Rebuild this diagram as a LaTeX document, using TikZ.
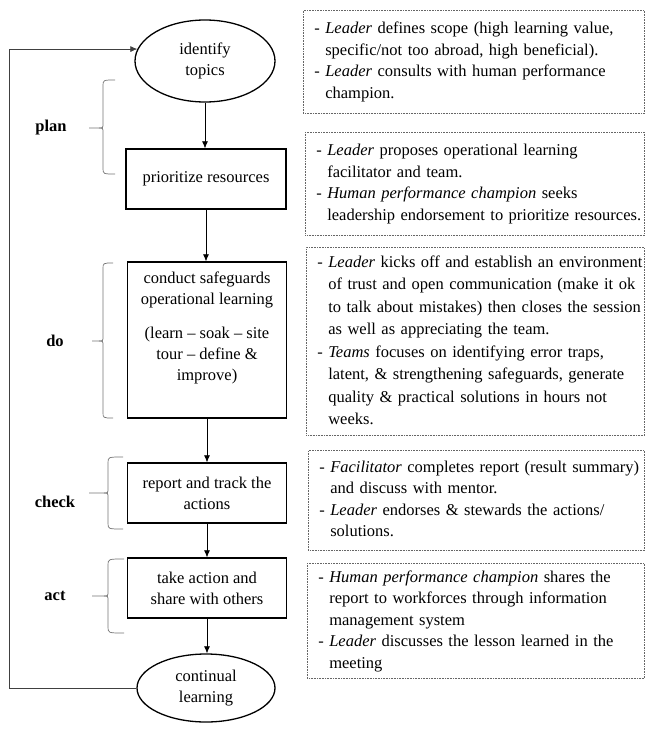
\documentclass[tikz,border=0pt]{standalone}
\usepackage{fontspec}
\setmainfont{Liberation Serif}
\usetikzlibrary{arrows.meta,shapes.geometric}
% lines of a note, kept exactly as broken
\newcommand\notelines[1]{\begin{tabular}{@{}l@{}}#1\end{tabular}}
\newcommand\hang{\phantom{- }}
% left curly bracket: end x, spine x, top y, middle y, bottom y, tip x
\newcommand\phasebrace[6]{%
  \draw[bracket] (#1,#3) .. controls (#2,#3) .. (#2,#3+6) -- (#2,#4-5)
    .. controls (#2,#4) .. (#2-4,#4) -- (#6,#4);
  \draw[bracket] (#2-4,#4) .. controls (#2,#4) .. (#2,#4+5) -- (#2,#5-6)
    .. controls (#2,#5) .. (#1,#5);}
\begin{document}
\begin{tikzpicture}[x=1pt,y=-1pt,
  flow/.style={draw,line width=1.3pt,align=center,inner sep=0pt,
    font=\fontsize{16.5}{21}\selectfont},
  stepbox/.style={flow,rectangle,minimum width=159pt,minimum height=60pt},
  oval/.style={flow,ellipse},
  note/.style={draw=black!60,densely dotted,line width=0.6pt,anchor=north west,
    inner xsep=11pt,inner ysep=0pt,font=\fontsize{16.5}{21.5}\selectfont},
  phase/.style={font=\fontsize{16.5}{20}\selectfont\bfseries},
  bracket/.style={draw=black!55,line width=0.7pt},
  arrow/.style={-{Latex[length=7pt,width=6pt]},line width=0.7pt},
  loop/.style={arrow,draw=black!75}]
\useasboundingbox (0,0) rectangle (648,731);

% process steps
\node[oval,minimum width=140pt,minimum height=82pt] (topics) at (205,61) {identify\\topics};
\node[stepbox,minimum width=160pt] (prio) at (206,179) {prioritize resources};
\node[stepbox,minimum height=156pt] (olearn) at (207,340)
  {conduct safeguards\\operational learning\\[13pt](learn – soak – site\\tour – define \&\\improve)\\[6pt]};
\node[stepbox] (report) at (207,493) {report and track the\\actions};
\node[stepbox] (share) at (207,588) {take action and\\share with others};
\node[oval,minimum width=138pt,minimum height=68pt] (cont) at (206,688) {continual\\learning};

\draw[arrow] (topics.south) -- (topics.south |- prio.north);
\draw[arrow] (prio.south) -- (prio.south |- olearn.north);
\draw[arrow] (olearn.south) -- (olearn.south |- report.north);
\draw[arrow] (report.south) -- (report.south |- share.north);
\draw[arrow] (share.south) -- (share.south |- cont.north);
\draw[loop] (cont.west) -- ++(-127,0) |- (topics.170);

% phases of the cycle
\node[phase] (plan) at (51,128) {plan};
\node[phase] (do) at (55,341) {do};
\node[phase] (check) at (55,502) {check};
\node[phase] (act) at (55,596) {act};
\phasebrace{115}{103}{80}{128}{174}{89}
\phasebrace{113}{103}{263}{341}{418}{92}
\phasebrace{123}{108}{457}{493}{529}{89}
\phasebrace{124}{108}{559}{596}{633}{92}

% roles and duties for each step
\node[note,minimum width=341pt,minimum height=103pt,text width=319pt] (n1) at (303,10) {\notelines{%
- \textit{Leader} defines scope (high learning value,\\
\hang specific/not too abroad, high beneficial).\\
- \textit{Leader} consults with human performance\\
\hang champion.}};
\node[note,minimum width=339pt,minimum height=103pt,text width=317pt] (n2) at (305,132) {\notelines{%
- \textit{Leader} proposes operational learning\\
\hang facilitator and team.\\
- \textit{Human performance champion} seeks\\
\hang leadership endorsement to prioritize resources.}};
\node[note,minimum width=338pt,minimum height=188pt,text width=316pt,
  font=\fontsize{16.5}{22.5}\selectfont] (n3) at (306,247) {\notelines{%
- \textit{Leader} kicks off and establish an environment\\
\hang of trust and open communication (make it ok\\
\hang to talk about mistakes) then closes the session\\
\hang as well as appreciating the team.\\
- \textit{Teams} focuses on identifying error traps,\\
\hang latent, \& strengthening safeguards, generate\\
\hang quality \& practical solutions in hours not\\
\hang weeks.}};
\node[note,minimum width=336pt,minimum height=100pt,text width=314pt] (n4) at (308,450) {\notelines{%
- \textit{Facilitator} completes report (result summary)\\
\hang and discuss with mentor.\\
- \textit{Leader} endorses \& stewards the actions/\\
\hang solutions.}};
\node[note,minimum width=337pt,minimum height=115pt,text width=315pt] (n5) at (307,563) {\notelines{%
- \textit{Human performance champion} shares the\\
\hang report to workforces through information\\
\hang management system\\
- \textit{Leader} discusses the lesson learned in the\\
\hang meeting}};
\end{tikzpicture}
\end{document}
